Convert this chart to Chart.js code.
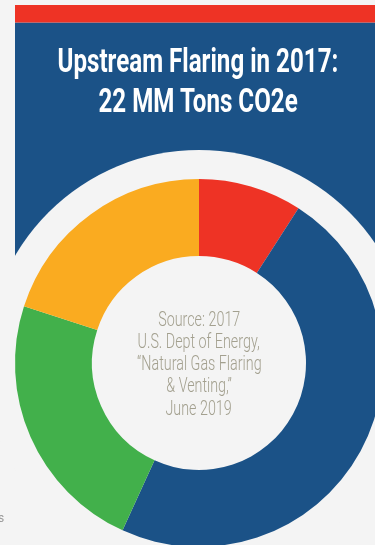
<!DOCTYPE html>
<html>
<head>
<meta charset="utf-8">
<script src="https://cdn.jsdelivr.net/npm/chart.js@4/dist/chart.umd.min.js"></script>
<style>
  html, body { margin:0; padding:0; background:#f4f4f4; }
  #wrap { position:relative; width:375px; height:545px; overflow:hidden; background:#f4f4f4; }
  #cv { position:absolute; left:0; top:0; }
  .line { position:absolute; left:0; width:400px; text-align:center; white-space:nowrap; }
  .line span { display:inline-block; transform-origin:50% 50%; }
  .title { font-family: Roboto, "Liberation Sans", sans-serif; font-weight:700; color:#fff; font-size:33px; line-height:33px; }
  .src { font-family: Roboto, "Liberation Sans", sans-serif; font-weight:300; color:#a3a08f; font-size:21px; line-height:21px; }
  #frag { position:absolute; left:-2px; top:511px; font-family: Roboto, sans-serif; font-size:12px; color:#9a9a9a; }
</style>
</head>
<body>
<div id="wrap">
  <canvas id="cv" width="400" height="560" style="width:400px;height:560px"></canvas>
  <div id="titleBox"></div>
  <div id="srcBox"></div>
  <div id="frag">s</div>
</div>
<script>
// ---- data ----
const categories = ["Segment 1", "Segment 2", "Segment 3", "Segment 4"];
const emissionsMMTons = [2.0, 10.5, 5.1, 4.4];
const sliceColors = ["#ee3325", "#1b5287", "#42b04b", "#faab20"];
const titleLines = ["Upstream Flaring in 2017:", "22 MM Tons CO2e"];
const sourceLines = ["Source: 2017", "U.S. Dept of Energy,", "\u201cNatural Gas Flaring", "& Venting,\u201d", "June 2019"];

// ---- text overlays ----
function addLines(boxId, lines, cls, tops, centerX) {
  const box = document.getElementById(boxId);
  const spans = [];
  lines.forEach((t, i) => {
    const d = document.createElement('div');
    d.className = 'line ' + cls;
    d.style.top = tops[i] + 'px';
    d.style.left = (centerX - 200) + 'px';
    const s = document.createElement('span');
    s.textContent = t;
    d.appendChild(s);
    box.appendChild(d);
    spans.push(s);
  });
  return spans;
}
const titleSpans = addLines('titleBox', titleLines, 'title', [44, 84], 198);
const srcSpans = addLines('srcBox', sourceLines, 'src', [308.5, 330.5, 353, 375, 397.5], 199);

function condense(spans, refIndex, targetWidth) {
  const w = spans[refIndex].offsetWidth;   // untransformed width
  const k = w > 0 ? targetWidth / w : 1;
  spans.forEach(s => s.style.transform = 'scaleX(' + k + ')');
}
function fit() {
  condense(titleSpans, 0, 281);
  condense(srcSpans, 1, 122);
}
fit();
if (document.fonts && document.fonts.ready) document.fonts.ready.then(fit);

// ---- background plugin: banner + cut-out ring ----
const bgPlugin = {
  id: 'bgPlugin',
  beforeDatasetsDraw(chart) {
    const ctx = chart.ctx;
    const meta = chart.getDatasetMeta(0);
    const arc = meta.data[0];
    if (!arc) return;
    const cx = arc.x, cy = arc.y, R = arc.outerRadius;
    ctx.save();
    ctx.fillStyle = '#1b5287';
    ctx.fillRect(15, 22.5, 400, 380);
    ctx.fillStyle = '#ee3325';
    ctx.fillRect(15, 5, 400, 17.5);
    ctx.beginPath();
    ctx.arc(cx, cy, R + 29, 0, Math.PI * 2);
    ctx.fillStyle = '#f4f4f4';
    ctx.fill();
    ctx.restore();
  }
};

new Chart(document.getElementById('cv'), {
  type: 'doughnut',
  data: {
    labels: categories,
    datasets: [{
      data: emissionsMMTons,
      backgroundColor: sliceColors,
      borderWidth: 0,
      hoverOffset: 0
    }]
  },
  options: {
    responsive: false,
    animation: false,
    radius: 184,
    cutout: 107,
    layout: { padding: { left: 15, right: 17, top: 179, bottom: 13 } },
    plugins: { legend: { display: false }, tooltip: { enabled: false }, title: { display: false } },
    events: []
  },
  plugins: [bgPlugin]
});
</script>
</body>
</html>
